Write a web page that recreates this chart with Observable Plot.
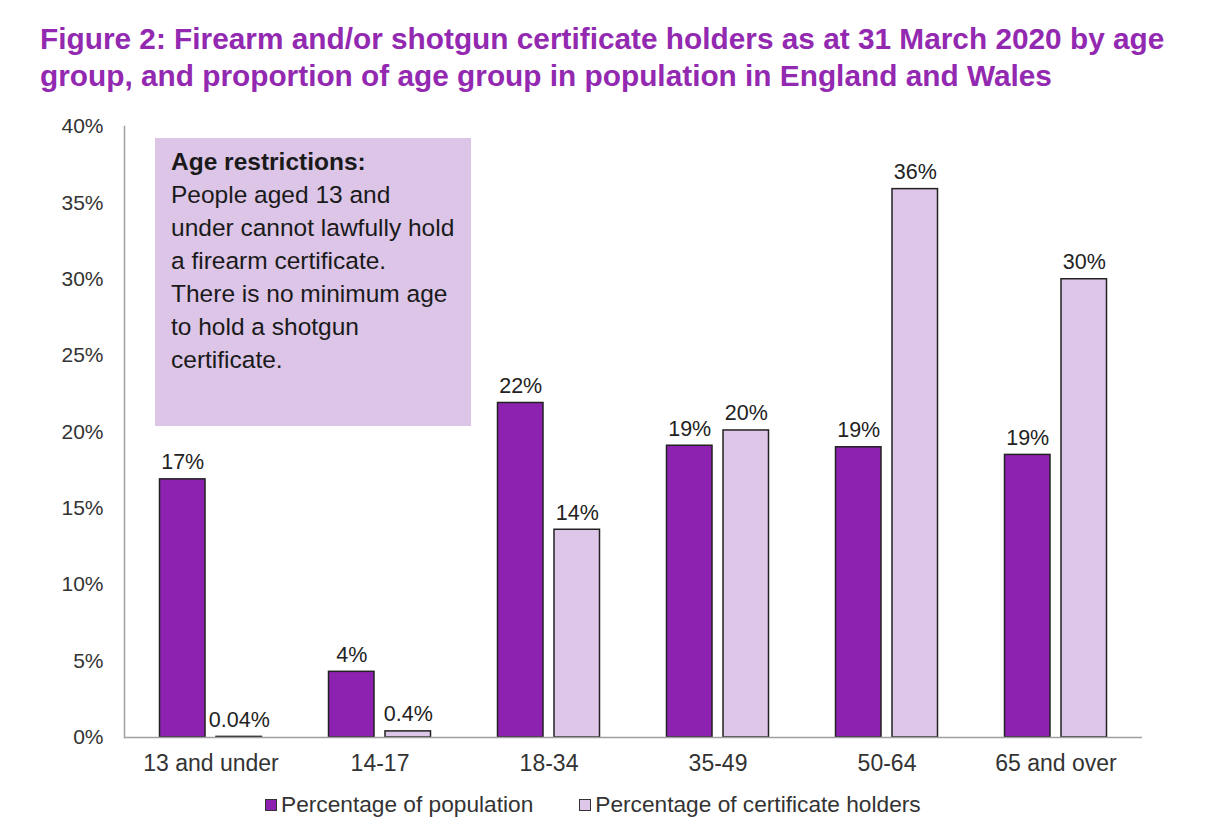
<!DOCTYPE html>
<html>
<head>
<meta charset="utf-8">
<script src="https://cdn.jsdelivr.net/npm/d3@7"></script>
<script src="https://cdn.jsdelivr.net/npm/@observablehq/plot@0.6"></script>
<style>
  body { margin: 0; background: #fff; font-family: "Liberation Sans", Arial, sans-serif; }
  #wrap { position: relative; width: 1218px; height: 831px; }
  #title { position: absolute; left: 40px; top: 20px; font-size: 29.8px; font-weight: bold; color: #9329B1; line-height: 37px; white-space: nowrap; }
  #chart { position: absolute; left: 0; top: 110px; }
  #note { position: absolute; left: 155px; top: 138px; width: 316px; height: 288px; background: #DCC5E7; box-sizing: border-box; padding: 7px 0 0 16px; font-size: 24.5px; line-height: 33px; color: #1a1a1a; white-space: nowrap; }
  #legend { position: absolute; top: 791px; left: 265px; font-size: 22.7px; color: #333; display: flex; gap: 46px; }
  .item { display: flex; align-items: center; }
  .sw { width: 12px; height: 12px; border: 1.5px solid #333; margin-right: 4px; box-sizing: border-box; }
</style>
</head>
<body>
<div id="wrap">
  <div id="title">Figure 2: Firearm and/or shotgun certificate holders as at 31 March 2020 by age<br>group, and proportion of age group in population in England and Wales</div>
  <div id="chart"></div>
  <div id="note"><b>Age restrictions:</b><br>People aged 13 and<br>under cannot lawfully hold<br>a firearm certificate.<br>There is no minimum age<br>to hold a shotgun<br>certificate.</div>
  <div id="legend"></div>
</div>
<script>
const categories = ["13 and under", "14-17", "18-34", "35-49", "50-64", "65 and over"];
const population = [16.9, 4.3, 21.9, 19.1, 19.0, 18.5];
const holders = [0.04, 0.4, 13.6, 20.1, 35.9, 30.0];
const populationLabels = ["17%", "4%", "22%", "19%", "19%", "19%"];
const holderLabels = ["0.04%", "0.4%", "14%", "20%", "36%", "30%"];
const seriesNames = ["Percentage of population", "Percentage of certificate holders"];
const seriesColors = ["#8C22AF", "#DEC6E9"];
const yTicks = [0, 5, 10, 15, 20, 25, 30, 35, 40];

const popData = categories.map((c, i) => ({cat: c, value: population[i], label: populationLabels[i]}));
const holdData = categories.map((c, i) => ({cat: c, value: holders[i], label: holderLabels[i]}));

const plot = Plot.plot({
  width: 1218,
  height: 677,
  marginLeft: 124,
  marginRight: 76,
  marginTop: 16,
  marginBottom: 50,
  style: {fontFamily: '"Liberation Sans", Arial, sans-serif', fontSize: "21px", color: "#333", background: "transparent"},
  x: {domain: categories, padding: 0, label: null, tickSize: 0, tickPadding: 17},
  y: {domain: [0, 40], ticks: yTicks, tickFormat: d => d + "%", label: null, tickSize: 0, tickPadding: 21},
  marks: [
    Plot.barY(popData, {x: "cat", y: "value", fill: seriesColors[0], stroke: "#222", strokeWidth: 1.5, insetLeft: 33.5, insetRight: 90}),
    Plot.barY(holdData, {x: "cat", y: "value", fill: seriesColors[1], stroke: "#222", strokeWidth: 1.5, insetLeft: 90, insetRight: 33.5}),
    Plot.text(popData, {x: "cat", y: "value", text: "label", dx: -28.3, dy: -10, lineAnchor: "bottom", fill: "#222", fontSize: 21.5}),
    Plot.text(holdData, {x: "cat", y: "value", text: "label", dx: 28.3, dy: -10, lineAnchor: "bottom", fill: "#222", fontSize: 21.5}),
    Plot.ruleY([0], {stroke: "#A0A0A0", strokeWidth: 1.5}),
    Plot.frame({anchor: "left", stroke: "#A0A0A0", strokeWidth: 1.5})
  ]
});
plot.querySelectorAll('[aria-label="x-axis tick label"] text').forEach(t => t.setAttribute("font-size", "23px"));
document.getElementById("chart").appendChild(plot);

const legend = document.getElementById("legend");
seriesNames.forEach((n, i) => {
  const item = document.createElement("div");
  item.className = "item";
  const sw = document.createElement("span");
  sw.className = "sw";
  sw.style.background = seriesColors[i];
  item.appendChild(sw);
  const t = document.createElement("span");
  t.textContent = n;
  item.appendChild(t);
  legend.appendChild(item);
});
</script>
</body>
</html>
